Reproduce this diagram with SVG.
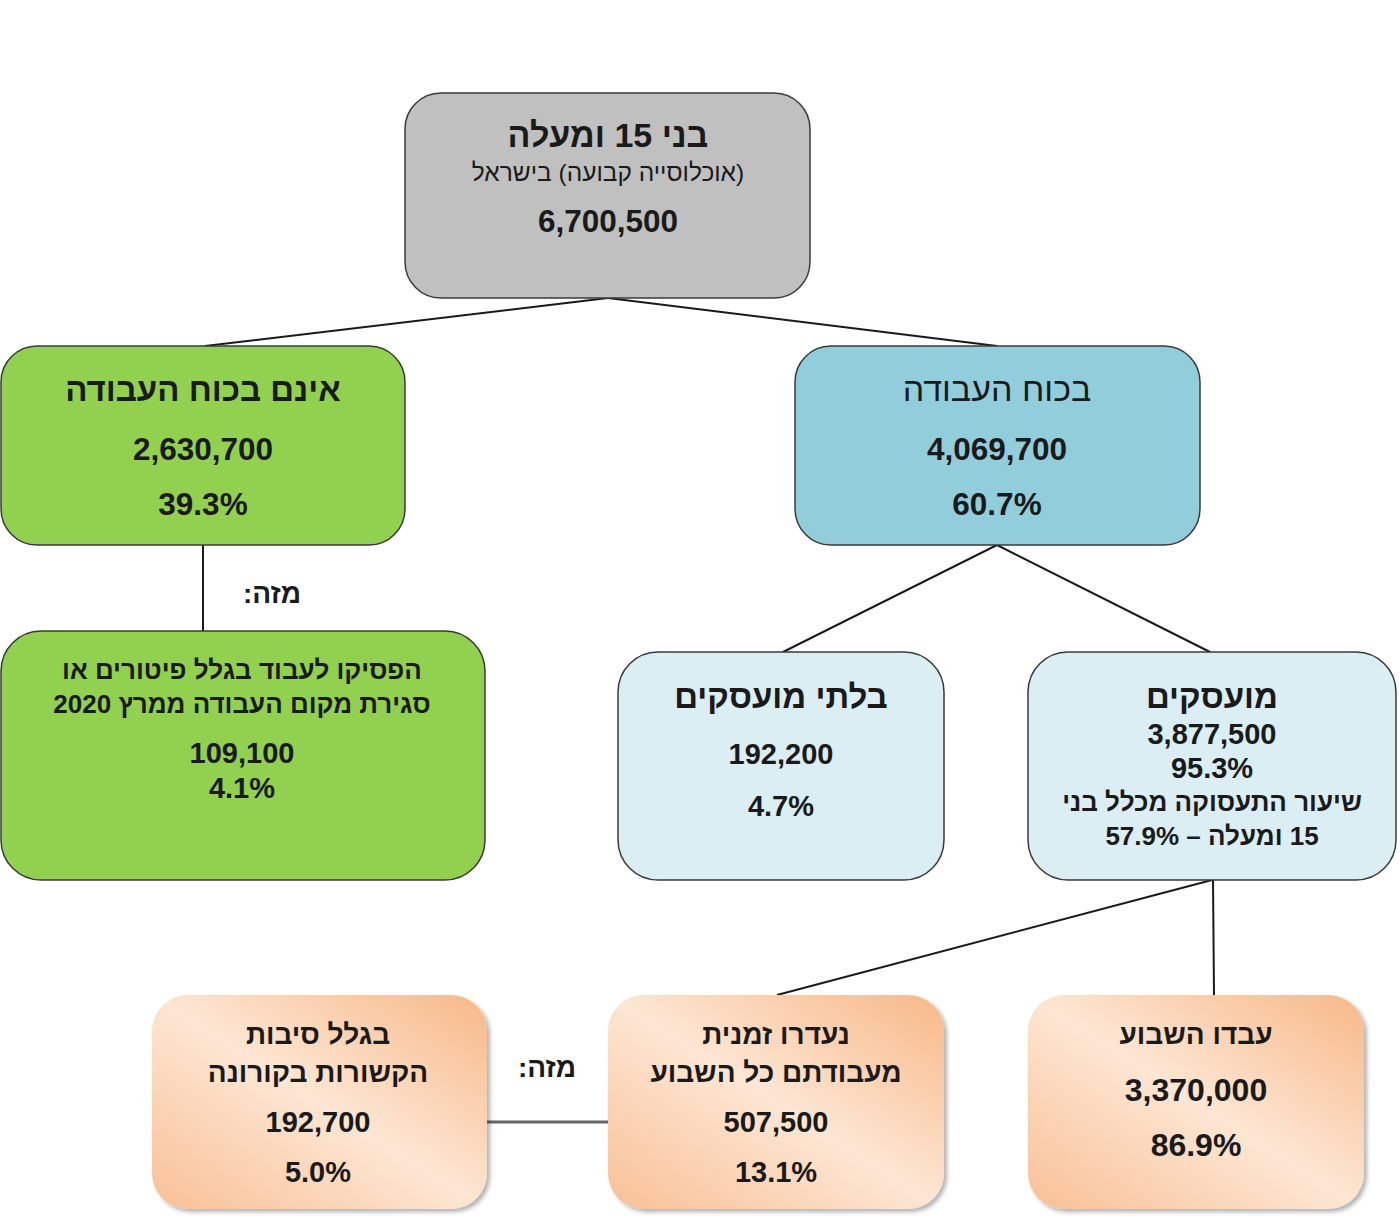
<svg xmlns="http://www.w3.org/2000/svg" width="1400" height="1219" viewBox="0 0 1400 1219">
<style>
text{font-family:"Liberation Sans",Arial,"DejaVu Sans",sans-serif;fill:#1a1a1a;text-anchor:middle;font-weight:bold;}
.rtl{direction:rtl;unicode-bidi:embed;}
.n{font-weight:normal;}
.box{stroke:#3a3a3a;stroke-width:1.5;}
.conn{stroke:#1a1a1a;stroke-width:2;fill:none;}
.conn2{stroke:#666;stroke-width:3;fill:none;}
.t34{font-size:34px;}
.t33{font-size:33px;}
.f32{font-size:32px;}
.f31{font-size:31.5px;}
.f29{font-size:29px;}
.f28{font-size:28px;}
.f26{font-size:26px;}
.f24{font-size:24.5px;}
</style>
<defs>
<linearGradient id="og" x1="1" y1="0" x2="0" y2="1">
<stop offset="0" stop-color="#f7b887"/>
<stop offset="0.5" stop-color="#fde6d3"/>
<stop offset="1" stop-color="#f8c096"/>
</linearGradient>
<filter id="sh" x="-5%" y="-5%" width="115%" height="115%">
<feDropShadow dx="3" dy="3" stdDeviation="2" flood-color="#000" flood-opacity="0.3"/>
</filter>
</defs>
<rect width="1400" height="1219" fill="#fff"/>
<g id="connectors">
<line class="conn" x1="608" y1="298" x2="205" y2="346"/>
<line class="conn" x1="608" y1="298" x2="997" y2="346"/>
<line class="conn" x1="203" y1="545" x2="203" y2="631"/>
<line class="conn" x1="997" y1="545" x2="783" y2="652"/>
<line class="conn" x1="997" y1="545" x2="1210" y2="652"/>
<line class="conn" x1="1212" y1="880" x2="777" y2="995"/>
<line class="conn" x1="1213" y1="880" x2="1214" y2="995"/>
<line class="conn2" x1="487" y1="1122" x2="608" y2="1122"/>
<text class="rtl f28" x="272" y="603">מזה:</text>
<text class="rtl f28" x="547" y="1077">מזה:</text>
</g>
<g id="n-total">
<rect class="box" x="405" y="93" width="405" height="205" rx="36" fill="#c0c0c0"/>
<text class="rtl t34" x="608" y="147">בני 15 ומעלה</text>
<text class="rtl n f24" x="608" y="181">(אוכלוסייה קבועה) בישראל</text>
<text class="f31" x="608" y="232">6,700,500</text>
</g>
<g id="n-notlabor">
<rect class="box" x="1" y="346" width="404" height="199" rx="36" fill="#92d050"/>
<text class="rtl t33" x="203" y="401">אינם בכוח העבודה</text>
<text class="f31" x="203" y="460">2,630,700</text>
<text class="f31" x="203" y="515">39.3%</text>
</g>
<g id="n-labor">
<rect class="box" x="795" y="346" width="405" height="199" rx="36" fill="#92cddc"/>
<text class="rtl n t34" x="997" y="401">בכוח העבודה</text>
<text class="f31" x="997" y="460">4,069,700</text>
<text class="f31" x="997" y="515">60.7%</text>
</g>
<g id="n-stopped">
<rect class="box" x="1" y="631" width="484" height="249" rx="40" fill="#92d050"/>
<text class="rtl f26" x="242" y="679">הפסיקו לעבוד בגלל פיטורים או</text>
<text class="rtl f26" x="242" y="713">סגירת מקום העבודה ממרץ 2020</text>
<text class="f29" x="242" y="763">109,100</text>
<text class="f29" x="242" y="798">4.1%</text>
</g>
<g id="n-unemployed">
<rect class="box" x="618" y="652" width="326" height="228" rx="40" fill="#dbeef3"/>
<text class="rtl t33" x="781" y="708">בלתי מועסקים</text>
<text class="f29" x="781" y="764">192,200</text>
<text class="f29" x="781" y="816">4.7%</text>
</g>
<g id="n-employed">
<rect class="box" x="1028" y="652" width="368" height="228" rx="40" fill="#dbeef3"/>
<text class="rtl t33" x="1212" y="708">מועסקים</text>
<text class="f29" x="1212" y="744">3,877,500</text>
<text class="f29" x="1212" y="778">95.3%</text>
<text class="rtl f26" x="1212" y="811">שיעור התעסוקה מכלל בני</text>
<text class="rtl f26" x="1212" y="845">15 ומעלה – 57.9%</text>
</g>
<g id="n-corona">
<rect x="152" y="995" width="335" height="214" rx="36" fill="url(#og)" filter="url(#sh)"/>
<text class="rtl f28" x="318" y="1044">בגלל סיבות</text>
<text class="rtl f28" x="318" y="1082">הקשורות בקורונה</text>
<text class="f29" x="318" y="1132">192,700</text>
<text class="f29" x="318" y="1182">5.0%</text>
</g>
<g id="n-absent">
<rect x="608" y="995" width="336" height="214" rx="36" fill="url(#og)" filter="url(#sh)"/>
<text class="rtl f28" x="776" y="1044">נעדרו זמנית</text>
<text class="rtl f28" x="776" y="1082">מעבודתם כל השבוע</text>
<text class="f29" x="776" y="1132">507,500</text>
<text class="f29" x="776" y="1182">13.1%</text>
</g>
<g id="n-worked">
<rect x="1028" y="995" width="336" height="214" rx="36" fill="url(#og)" filter="url(#sh)"/>
<text class="rtl f28" x="1196" y="1044">עבדו השבוע</text>
<text class="f32" x="1196" y="1101">3,370,000</text>
<text class="f32" x="1196" y="1156">86.9%</text>
</g>
</svg>
